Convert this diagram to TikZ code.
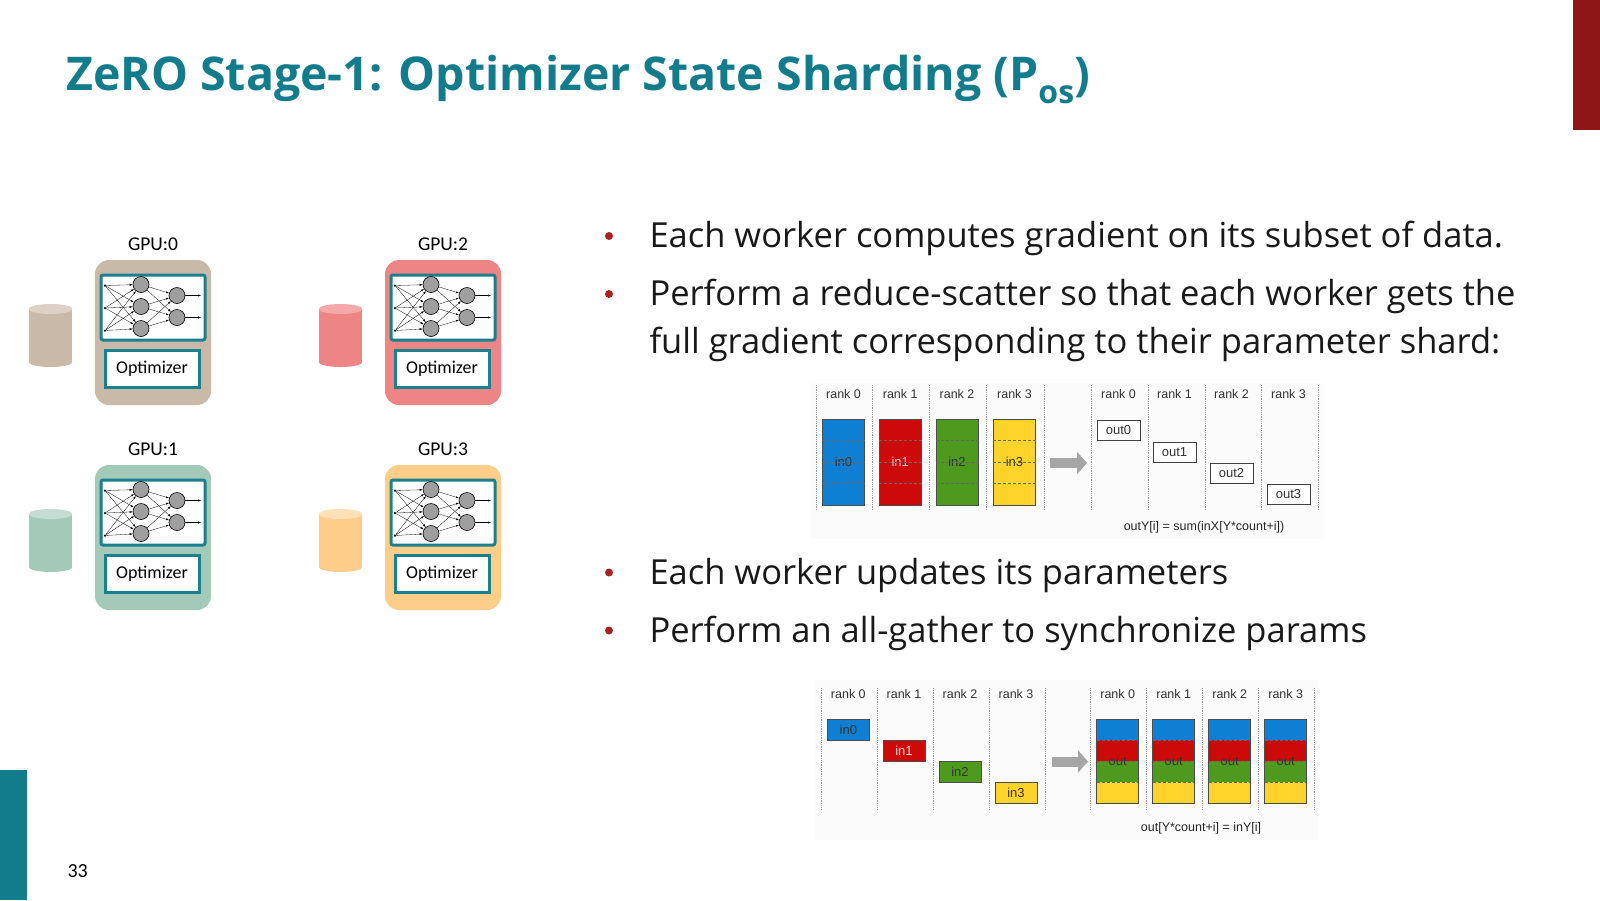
\documentclass[tikz,border=0pt]{standalone}
\usepackage{fontspec}
\setmainfont{Open Sans}
\newfontfamily\calfont{Carlito}
\newfontfamily\arifont{Liberation Sans}
\usetikzlibrary{arrows.meta}
\definecolor{teal}{HTML}{127C8C}
\definecolor{dred}{HTML}{8E1616}
\definecolor{bred}{HTML}{A82222}
\definecolor{nbord}{HTML}{1A7F8E}
\definecolor{cb}{HTML}{0E7FD2}
\definecolor{cr}{HTML}{CC0A0A}
\definecolor{cg}{HTML}{4E9A1E}
\definecolor{cy}{HTML}{FFD42A}
\definecolor{tanA}{HTML}{C9B9A9}\definecolor{tanB}{HTML}{DDD1C5}
\definecolor{pinkA}{HTML}{EE8585}\definecolor{pinkB}{HTML}{F4A8A8}
\definecolor{greA}{HTML}{A3C9B9}\definecolor{greB}{HTML}{C3DDD2}
\definecolor{oraA}{HTML}{FFCD8A}\definecolor{oraB}{HTML}{FFE1B8}
\tikzset{
  gpubox/.style={rounded corners=14pt, minimum width=116pt, minimum height=145pt, inner sep=0},
  netbox/.style={draw=nbord, line width=3pt, fill=white, rounded corners=2pt, minimum width=104pt, minimum height=65pt, inner sep=0},
  optbox/.style={draw=nbord, line width=3pt, fill=white, minimum width=94pt, minimum height=37pt, inner sep=0, font=\calfont\fontsize{18}{20}\selectfont},
  lbl/.style={font=\calfont\fontsize{19.5}{22}\selectfont},
  neuron/.style={circle, draw=black, line width=0.6pt, fill=gray!75, minimum width=14pt, minimum height=16pt, inner sep=0},
  inpt/.style={circle, fill=black, inner sep=0, minimum size=2.5pt},
  nedge/.style={line width=0.3pt, -{Latex[length=3pt,width=2pt]}},
  bullet/.style={anchor=base west, font=\fontsize{34.5}{40}\selectfont, text=black!90},
  dot/.style={circle, fill=bred, inner sep=0, minimum size=8pt},
  rk/.style={font=\arifont\fontsize{12.5}{14}\selectfont, text=black!80},
  sep/.style={gray!80, densely dotted, line width=0.8pt},
  bar/.style={draw=black!70, line width=0.6pt, minimum width=42pt, inner sep=0, font=\arifont\fontsize{13}{14}\selectfont},
  obox/.style={draw=black!75, line width=0.8pt, fill=white, minimum width=43pt, minimum height=20pt, inner sep=0, font=\arifont\fontsize{13}{14}\selectfont, text=black!80},
  garrow/.style={gray!70, line width=10pt, -{Triangle[length=10pt,width=22pt]}},
  formula/.style={font=\arifont\fontsize{12.5}{14}\selectfont, text=black!85}
}
\newcommand\gpublock[7]{%
\begin{scope}[shift={(#2,#3)}]
\node[gpubox, fill=#4] (#1) at (58,72.5) {};
\node[lbl] (#1l) at (58,-16) {#5};
\node[netbox] (#1n) at (58,47.5) {};
\node[optbox] (#1o) at (57,108.5) {Optimizer};
\foreach \i/\yy in {1/25.5,2/48,3/70.5}{\node[inpt] (#1i\i) at (10,\yy) {};}
\foreach \i/\yy in {1/24.5,2/46.5,3/68.5}{\node[neuron] (#1h\i) at (46,\yy) {};}
\foreach \i/\yy in {1/35.5,2/57.5}{\node[neuron] (#1o\i) at (82,\yy) {};
  \coordinate (#1e\i) at (106,\yy);}
\foreach \a in {1,2,3}{\foreach \b in {1,2,3}{\draw[nedge] (#1i\a) -- (#1h\b);}}
\foreach \a in {1,2,3}{\foreach \b in {1,2}{\draw[nedge] (#1h\a) -- (#1o\b);}}
\foreach \b in {1,2}{\draw[nedge] (#1o\b) -- (#1e\b);}
% cylinder
\fill[#6] (-66.4,49) rectangle (-22.6,102);
\fill[#6] (-44.5,102) ellipse [x radius=21.9pt, y radius=5pt];
\fill[#7] (-44.5,49) ellipse [x radius=21.9pt, y radius=5pt];
\end{scope}}
\begin{document}
\begin{tikzpicture}[x=1pt,y=-1pt]
\useasboundingbox (0,0) rectangle (1600,900);
\fill[white] (0,0) rectangle (1600,900);
\fill[dred] (1573,0) rectangle (1600,130);
\fill[teal] (0,770) rectangle (27,900);
\node[anchor=base west, font=\calfont\fontsize{20}{22}\selectfont] (pg) at (64,877) {33};
\node[anchor=base west, inner sep=0, text=teal, font=\bfseries\fontsize{46.5}{52}\selectfont] (title) at (66,90)
  {ZeRO Stage-1: Optimizer State Sharding (P\raisebox{-0.28em}{\fontsize{32}{34}\selectfont os})};

\gpublock{g0}{95}{260}{tanA}{GPU:0}{tanA}{tanB}
\gpublock{g2}{385}{260}{pinkA}{GPU:2}{pinkA}{pinkB}
\gpublock{g1}{95}{465}{greA}{GPU:1}{greA}{greB}
\gpublock{g3}{385}{465}{oraA}{GPU:3}{oraA}{oraB}

% bullets
\foreach \n/\yy/\t in {b1/247/{Each worker computes gradient on its subset of data.},
  b2/305/{Perform a reduce-scatter so that each worker gets the},
  b3/353/{full gradient corresponding to their parameter shard:},
  b4/584/{Each worker updates its parameters},
  b5/642/{Perform an all-gather to synchronize params}}{
  \node[bullet] (\n) at (646,\yy) {\t};}
\foreach \yy/\n in {236/d1,294/d2,572.5/d4,630.5/d5}{\node[dot] (\n) at (609,\yy) {};}

% reduce-scatter diagram
\fill[black!1.5] (811,383) rectangle (1323,539);
\foreach \xx in {816,872.7,929,986.7,1044,1091.7,1148,1205,1261.7,1318}{\draw[sep] (\xx,385) -- (\xx,510);}
\foreach \xx/\c/\k/\tc in {822/cb/0/black!80,878.7/cr/1/red!25,935.5/cg/2/black!80,993/cy/3/black!80}{
  \node[rk] (rsl\k) at (\xx+21.5,394) {rank \k};
  \node[bar, fill=\c, minimum height=86pt, text=\tc] (rsin\k) at (\xx+21.5,462) {in\k};
  \foreach \q in {440.5,462,483.5}{\draw[black!60, densely dashed, line width=0.4pt] (\xx,\q) -- (\xx+43,\q);}
}
\foreach \xx/\k/\yy in {1097/0/430.5,1153/1/452,1210/2/473,1267/3/494.5}{
  \node[rk] (rsr\k) at (\xx+21.5,394) {rank \k};
  \node[obox] (rsout\k) at (\xx+21.5,\yy) {out\k};
}
\coordinate (ra1) at (1050,463); \coordinate (ra2) at (1087,463);
\draw[garrow] (ra1) -- (ra2);
\node[formula] (f1) at (1204,527) {outY[i] = sum(inX[Y*count+i])};

% all-gather diagram
\fill[black!1.5] (815,680) rectangle (1318,840);
\foreach \xx in {821,877.3,933.3,989,1045,1090,1146,1202,1258,1314}{\draw[sep] (\xx,688) -- (\xx,809);}
\foreach \xx/\c/\k/\yy/\tc in {827.3/cb/0/729.5/black!80,883/cr/1/750.5/red!15,939/cg/2/771.5/black!80,995/cy/3/792.5/black!80}{
  \node[rk] (agl\k) at (\xx+21,694.3) {rank \k};
  \node[bar, fill=\c, minimum height=21pt, text=\tc] (agin\k) at (\xx+21,\yy) {in\k};
}
\foreach \xx/\k in {1096.7/0,1152.7/1,1208.7/2,1264.7/3}{
  \node[rk] (agr\k) at (\xx+21,694.3) {rank \k};
  \fill[cb] (\xx,719) rectangle (\xx+42,740);
  \fill[cr] (\xx,740) rectangle (\xx+42,761);
  \fill[cg] (\xx,761) rectangle (\xx+42,782);
  \fill[cy] (\xx,782) rectangle (\xx+42,803);
  \foreach \q in {740,761,782}{\draw[black!60, densely dashed, line width=0.4pt] (\xx,\q) -- (\xx+42,\q);}
  \node[bar, minimum height=84pt, text=black!80] (agout\k) at (\xx+21,761) {out};
}
\coordinate (aa1) at (1052,761.5); \coordinate (aa2) at (1088,761.5);
\draw[garrow] (aa1) -- (aa2);
\node[formula] (f2) at (1201,828) {out[Y*count+i] = inY[i]};
\end{tikzpicture}
\end{document}
